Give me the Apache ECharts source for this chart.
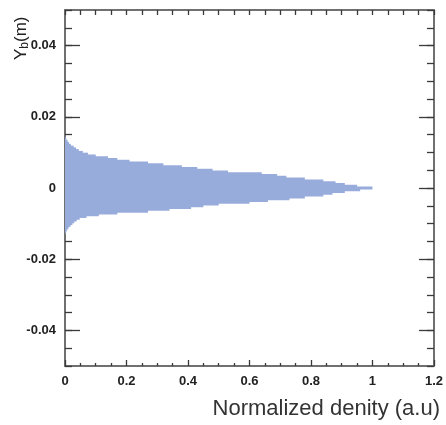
<!DOCTYPE html>
<html>
<head>
<meta charset="utf-8">
<script src="https://cdn.jsdelivr.net/npm/echarts@6/dist/echarts.min.js"></script>
<style>
html,body{margin:0;padding:0;background:#fff;}
#chart{width:446px;height:425px;}
</style>
</head>
<body>
<div id="chart"></div>
<script>
// Bin centres (Y_b, m), bin width 0.0005
const binY = [-0.0125,-0.0120,-0.0115,-0.0110,-0.0105,-0.0100,-0.0095,-0.0090,-0.0085,-0.0080,
  -0.0075,-0.0070,-0.0065,-0.0060,-0.0055,-0.0050,-0.0045,-0.0040,-0.0035,-0.0030,
  -0.0025,-0.0020,-0.0015,-0.0010,-0.0005,0.0000,0.0005,0.0010,0.0015,0.0020,
  0.0025,0.0030,0.0035,0.0040,0.0045,0.0050,0.0055,0.0060,0.0065,0.0070,
  0.0075,0.0080,0.0085,0.0090,0.0095,0.0100,0.0105,0.0110,0.0115,0.0120,
  0.0125,0.0130,0.0135,0.0140];
const binWidth = 0.0005;
// Normalized density per bin
const density = [0.002,0.005,0.008,0.012,0.018,0.024,0.030,0.038,0.048,0.070,
  0.110,0.170,0.270,0.340,0.410,0.450,0.500,0.600,0.660,0.730,
  0.780,0.840,0.870,0.910,0.960,1.000,0.950,0.910,0.880,0.840,
  0.780,0.720,0.690,0.640,0.530,0.480,0.430,0.380,0.320,0.270,
  0.210,0.170,0.140,0.100,0.075,0.058,0.045,0.036,0.028,0.019,
  0.013,0.009,0.005,0.002];
const xTicks = {min: 0, max: 1.2, interval: 0.2};
const yMajorLabels = [-0.04, -0.02, 0, 0.02, 0.04];
const yRange = {min: -0.05, max: 0.05};

const fillColor = '#98acdc';
const lineColor = '#707070';
const tickColor = '#3a3a3a';
const labelStyle = {color: '#222', fontSize: 13, fontWeight: 'bold', fontFamily: 'Liberation Sans, Arial, sans-serif'};

const data = binY.map((y, i) => [y, density[i]]);

const chart = echarts.init(document.getElementById('chart'), null, {renderer: 'canvas'});

function xAxisDef(pos, showLabel) {
  return {
    type: 'value', position: pos, min: xTicks.min, max: xTicks.max, interval: xTicks.interval,
    axisLine: {show: true, onZero: false, lineStyle: {color: lineColor, width: 2}},
    axisTick: {show: true, inside: true, length: pos === 'top' ? 5 : 6, lineStyle: {color: tickColor, width: 1.3}},
    minorTick: {show: true, splitNumber: 4, length: pos === 'top' ? 5 : 3, lineStyle: {color: tickColor, width: 1.3}},
    splitLine: {show: false}, minorSplitLine: {show: false},
    axisLabel: Object.assign({show: showLabel, margin: 9,
      formatter: v => String(Math.round(v * 10) / 10)}, labelStyle)
  };
}
function yMajor(pos, showLabel) {
  return {
    type: 'value', position: pos, min: yRange.min, max: yRange.max, interval: 0.01,
    axisLine: {show: true, onZero: false, lineStyle: {color: lineColor, width: 2}},
    axisTick: {show: true, inside: true, length: 15, customValues: yMajorLabels, lineStyle: {color: tickColor, width: 1.3}},
    splitLine: {show: false},
    axisLabel: Object.assign({show: showLabel, margin: 9, customValues: yMajorLabels,
      formatter: v => (Math.abs(v) < 1e-9 ? '0' : v.toFixed(2))}, labelStyle)
  };
}
function yMinor(pos) {
  return {
    type: 'value', position: pos, min: yRange.min, max: yRange.max, interval: 0.005,
    axisLine: {show: false, onZero: false},
    axisTick: {show: true, inside: true, length: 7, lineStyle: {color: tickColor, width: 1.3}},
    splitLine: {show: false},
    axisLabel: {show: false}
  };
}

chart.setOption({
  animation: false,
  backgroundColor: '#fff',
  grid: {left: 65, right: 6, top: 10, bottom: 59},
  xAxis: [xAxisDef('bottom', true), xAxisDef('top', false)],
  yAxis: [yMajor('left', true), yMinor('left'), yMajor('right', false), yMinor('right')],
  series: [{
    type: 'custom',
    xAxisIndex: 0, yAxisIndex: 0,
    encode: {x: 1, y: 0},
    data: data,
    renderItem: function (params, api) {
      const y = api.value(0), v = api.value(1);
      const p1 = api.coord([0, y + binWidth / 2]);
      const p2 = api.coord([v, y - binWidth / 2]);
      return {
        type: 'rect',
        shape: {x: p1[0], y: p1[1] - 0.6, width: p2[0] - p1[0], height: p2[1] - p1[1] + 1.2},
        style: {fill: fillColor}
      };
    },
    z: 1
  }],
  graphic: [
    {
      type: 'text', right: 6, top: 398,
      style: {text: 'Normalized denity (a.u)', fill: '#333', fontSize: 22, fontFamily: 'Liberation Sans, Arial, sans-serif'}
    },
    {
      type: 'text', x: 21, y: 60, rotation: Math.PI / 2,
      style: {
        text: '{m|Y}{s|b}{m|(m)}',
        align: 'left', verticalAlign: 'middle',
        rich: {
          m: {fontSize: 17, fill: '#222', fontFamily: 'Liberation Sans, Arial, sans-serif'},
          s: {fontSize: 12, fill: '#222', fontFamily: 'Liberation Sans, Arial, sans-serif', padding: [8, 0, 0, 0]}
        }
      }
    }
  ]
});
</script>
</body>
</html>
